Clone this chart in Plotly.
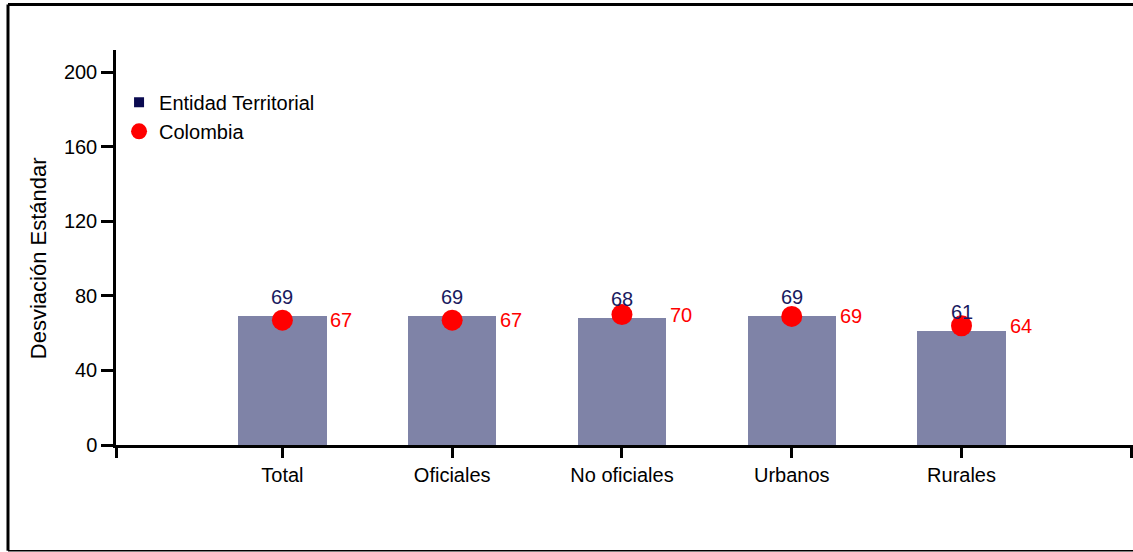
import plotly.graph_objects as go

categories = ["Total", "Oficiales", "No oficiales", "Urbanos", "Rurales"]
entidad = [69, 69, 68, 69, 61]
colombia = [67, 67, 70, 69, 64]
y_ticks = [0, 40, 80, 120, 160, 200]

FONT = "Liberation Sans, Arial, sans-serif"
NAVY = "#0a0a50"
LABEL_NAVY = "#1a1a60"
RED = "#ff0000"

xpos = list(range(len(categories)))
x_lo, x_hi = -0.98, 5.01

fig = go.Figure()

fig.add_trace(go.Bar(
    x=xpos, y=entidad, width=0.52,
    marker=dict(color="rgba(0,8,80,0.5)", line=dict(width=0)),
    showlegend=False, hoverinfo="skip",
))
# legend proxy for Entidad Territorial (navy square)
fig.add_trace(go.Scatter(
    x=[None], y=[None], mode="markers", name="Entidad Territorial",
    marker=dict(symbol="square", size=10, color=NAVY),
))
fig.add_trace(go.Scatter(
    x=xpos, y=colombia, mode="markers", name="Colombia",
    marker=dict(symbol="circle", size=21, color=RED),
))

for i, (e, c) in enumerate(zip(entidad, colombia)):
    fig.add_annotation(x=i, y=e, text=str(e), showarrow=False,
                       xanchor="center", yanchor="bottom", yshift=6,
                       font=dict(family=FONT, size=20, color=LABEL_NAVY))
    fig.add_annotation(x=i, y=c, text=str(c), showarrow=False,
                       xanchor="center", yanchor="middle", xshift=59,
                       font=dict(family=FONT, size=20, color=RED))

# y-axis title
fig.add_annotation(xref="paper", yref="paper", x=-0.0767, y=0.473,
                   text="Desviación Estándar", textangle=-90, showarrow=False,
                   xanchor="center", yanchor="middle",
                   font=dict(family=FONT, size=22, color="black"))

# frame around the chart (left, top, bottom)
fig.add_shape(type="line", xref="paper", yref="paper", x0=-0.1062, x1=-0.1062,
              y0=-0.268, y1=1.115, line=dict(color="black", width=3))
fig.add_shape(type="line", xref="paper", yref="paper", x0=-0.1062, x1=1.02,
              y0=1.115, y1=1.115, line=dict(color="black", width=3))
fig.add_shape(type="line", xref="paper", yref="paper", x0=-0.1062, x1=1.02,
              y0=-0.268, y1=-0.268, line=dict(color="black", width=1.5))

fig.update_layout(
    width=1133, height=552,
    margin=dict(l=116, r=0, t=50, b=107),
    paper_bgcolor="white", plot_bgcolor="white",
    font=dict(family=FONT, size=20, color="black"),
    bargap=0,
    legend=dict(
        x=0.003, y=0.917, xanchor="left", yanchor="top",
        bgcolor="rgba(0,0,0,0)",
        font=dict(family=FONT, size=20, color="black"),
        itemsizing="trace",
    ),
    xaxis=dict(
        range=[x_lo, x_hi],
        tickmode="array",
        tickvals=[-0.978] + xpos + [5.0],
        ticktext=[""] + categories + [""],
        showline=True, linecolor="black", linewidth=3,
        ticks="outside", ticklen=10, tickwidth=2.5, tickcolor="black",
        showgrid=False, zeroline=False,
        tickfont=dict(family=FONT, size=20, color="black"),
    ),
    yaxis=dict(
        range=[0, 212],
        tickmode="array", tickvals=y_ticks,
        showline=True, linecolor="black", linewidth=2.5,
        ticks="outside", ticklen=12, tickwidth=2.5, tickcolor="black",
        showgrid=False, zeroline=False,
        tickfont=dict(family=FONT, size=20, color="black"),
    ),
)

fig.write_html("out.html", config={"displayModeBar": False},
               post_script="document.body.style.margin='0px';")
